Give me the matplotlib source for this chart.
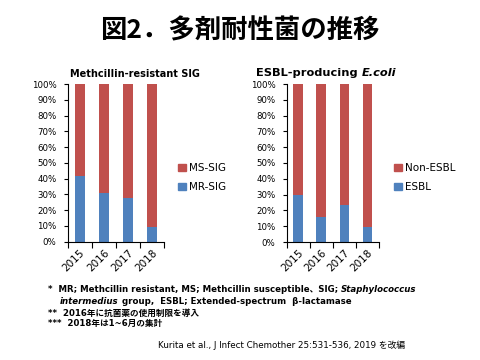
import matplotlib
matplotlib.use("Agg")
import matplotlib.pyplot as plt
from matplotlib.patches import Patch

years = ["2015", "2016", "2017", "2018"]
mr_sig = [41.5, 31.0, 28.0, 9.5]
ms_sig = [58.5, 69.0, 72.0, 90.5]
esbl = [29.5, 16.0, 23.5, 9.5]
non_esbl = [70.5, 84.0, 76.5, 90.5]
yticks = [0, 10, 20, 30, 40, 50, 60, 70, 80, 90, 100]

RED = "#C0504D"
BLUE = "#4F81BD"
JP = ["DejaVu Sans", "Noto Sans CJK JP"]

fig = plt.figure(figsize=(4.8, 3.6), dpi=100)


def draw_panel(rect, lower, upper, lnames, leg_xy=(0, 0)):
    ax = fig.add_axes(rect)
    x = range(len(years))
    ax.bar(x, lower, width=0.42, color=BLUE)
    ax.bar(x, upper, width=0.42, bottom=lower, color=RED)
    ax.set_xlim(-0.5, len(years) - 0.5)
    ax.set_ylim(0, 100)
    ax.set_yticks(yticks)
    ax.set_yticklabels([f"{v}%" for v in yticks], fontsize=6.2)
    ax.set_xticks(list(x))
    ax.set_xticklabels(years, rotation=45, fontsize=7.5, ha="right", rotation_mode="anchor")
    ax.set_xticks([i - 0.5 for i in range(len(years) + 1)], minor=True)
    ax.tick_params(axis="x", which="major", length=0, pad=4)
    ax.tick_params(axis="x", which="minor", length=4, width=0.8, direction="out")
    ax.tick_params(axis="y", length=3, width=0.8, pad=5)
    for s in ["top", "right"]:
        ax.spines[s].set_visible(False)
    for s in ["left", "bottom"]:
        ax.spines[s].set_linewidth(0.8)
    handles = [Patch(color=RED, label=lnames[1]), Patch(color=BLUE, label=lnames[0])]
    fig.legend(handles=handles, loc="center left", bbox_to_anchor=leg_xy,
               bbox_transform=fig.transFigure, frameon=False, fontsize=7.5,
               handlelength=0.7, handleheight=0.7, handletextpad=0.35, labelspacing=0.9,
               borderpad=0.0)
    return ax


draw_panel([67.7 / 480, 1 - 241.7 / 360, 96.3 / 480, 157.7 / 360], mr_sig, ms_sig,
           ["MR-SIG", "MS-SIG"], leg_xy=(173 / 480, 1 - 177.5 / 360))
draw_panel([286.7 / 480, 1 - 242 / 360, 92.3 / 480, 158 / 360], esbl, non_esbl,
           ["ESBL", "Non-ESBL"], leg_xy=(389 / 480, 1 - 177.5 / 360))

fig.text(0.5, 1 - 31 / 360, "図2．多剤耐性菌の推移", ha="center", va="center",
         fontsize=19, fontweight="bold", family=["Noto Sans CJK JP", "DejaVu Sans"])

renderer = fig.canvas.get_renderer()


def seq_text(x_px, y_px, parts, size, weight="bold"):
    x = x_px
    for txt, style, w in parts:
        t = fig.text(x / 480, 1 - y_px / 360, txt, ha="left", va="center", fontsize=size,
                     fontweight=w or weight, fontstyle=style, family=JP)
        bb = t.get_window_extent(renderer)
        x += bb.width
    return x


seq_text(70, 74, [("Methcillin-resistant SIG", "normal", None)], 7)
seq_text(256, 73, [("ESBL-producing ", "normal", None), ("E.coli", "italic", None)], 8.2)

fs = 6.2
seq_text(48, 289, [("*  MR; Methcillin resistant, MS; Methcillin susceptible、SIG; ", "normal", None),
                   ("Staphylococcus", "italic", None)], fs)
seq_text(60, 302, [("intermedius", "italic", None),
                   (" group,  ESBL; Extended-spectrum  β-lactamase", "normal", None)], fs)
seq_text(48, 313, [("**  2016年に抗菌薬の使用制限を導入", "normal", None)], fs)
seq_text(48, 323, [("***  2018年は1~6月の集計", "normal", None)], fs)
seq_text(158, 345, [("Kurita et al., J Infect Chemother 25:531-536, 2019 を改編", "normal", None)],
         6.3, weight="normal")

fig.savefig("out.png", dpi=100)
